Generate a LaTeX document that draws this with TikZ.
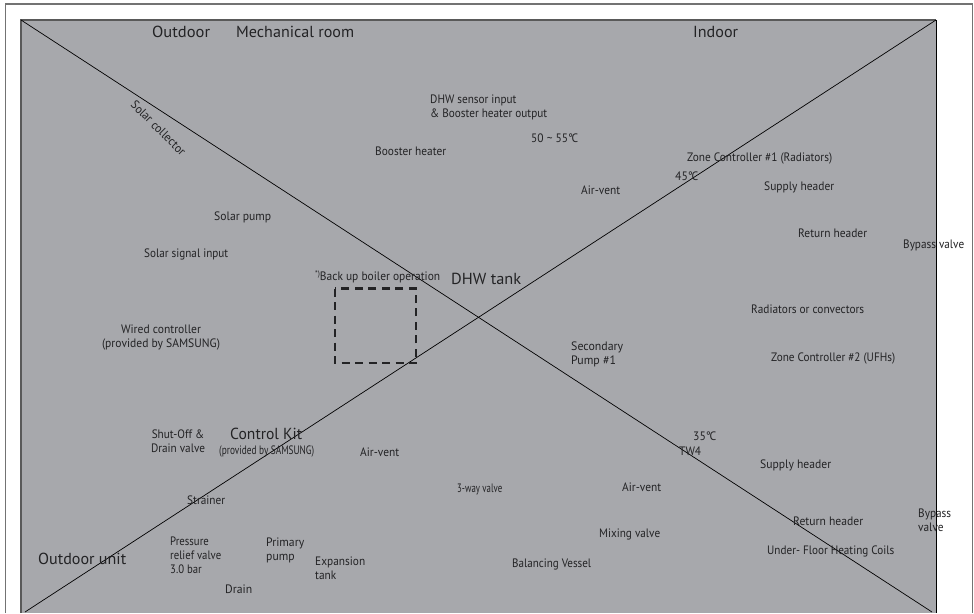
\documentclass[tikz,border=0pt]{standalone}
\usepackage{fontspec}
\setmainfont{PT Sans}
\definecolor{panel}{HTML}{A7A8AC}
\definecolor{ink}{HTML}{232325}
\newcommand{\fitw}[2]{\resizebox{#1pt}{\height}{#2}}
\newcommand{\fitl}[2]{\resizebox{#1pt}{\height}{\def\arraystretch{1}\setlength{\tabcolsep}{0pt}\begin{tabular}{l}#2\end{tabular}}}
\newcommand{\fitc}[2]{\resizebox{#1pt}{\height}{\def\arraystretch{1}\setlength{\tabcolsep}{0pt}\begin{tabular}{c}#2\end{tabular}}}
\newcommand{\dgc}{°\kern-0.12em C}
\begin{document}
\begin{tikzpicture}[x=1pt,y=-1pt,
  lbl/.style={text=ink,font=\fontsize{12.2}{13.8}\selectfont,inner sep=0pt,align=left,anchor=west,yshift=-0.6pt},
  big/.style={text=ink,font=\fontsize{16}{17}\selectfont,inner sep=0pt,anchor=west,yshift=-0.6pt},
  ctr/.style={lbl,anchor=center},
  diag/.style={draw=black,line width=0.7pt}]
\useasboundingbox (0,0) rectangle (974,613);
\fill[white] (0,0) rectangle (974,613);
\draw[draw=gray!90!black,line width=1.1pt] (5.5,613) -- (5.5,4) -- (972.5,4) -- (972.5,613);
\fill[panel] (21,20) rectangle (936,613);
\draw[draw=black!65,line width=1.2pt] (21,613) -- (21,20) -- (936,20);
\draw[draw=black,line width=0.9pt] (936,20) -- (936,613);
\coordinate (tl) at (21,20);
\coordinate (br) at (932,612);
\coordinate (tr) at (936,20);
\coordinate (bl) at (25,612);
\draw[diag] (tl) -- (br);
\draw[diag] (tr) -- (bl);
\draw[draw=ink,line width=2.6pt,dash pattern=on 8pt off 5.5pt] (335,288.5) rectangle (416,363);

\node[big] (outdoor) at (152,31) {\fitw{58}{Outdoor}};
\node[big] (mech) at (236,31) {\fitw{118}{Mechanical room}};
\node[big] (indoor) at (693,31) {\fitw{45}{Indoor}};
\node[lbl,rotate=-45,anchor=center] (solarc) at (158.5,127.5) {\fitw{72}{Solar collector}};
\node[lbl] (dhws) at (430,106.8) {\fitl{117}{DHW sensor input\\\& Booster heater output}};
\node[lbl] (boost) at (375,151) {\fitw{71}{Booster heater}};
\node[lbl] (t50) at (531,138) {\fitw{47}{50 \textasciitilde{} 55\dgc}};
\node[lbl] (zc1) at (687,158) {\fitw{145}{Zone Controller \#1 (Radiators)}};
\node[lbl] (t45) at (675,176) {\fitw{23}{45\dgc}};
\node[lbl] (av1) at (581,190) {\fitw{39}{Air-vent}};
\node[lbl] (sup1) at (764,186.5) {\fitw{70}{Supply header}};
\node[lbl] (ret1) at (798,233) {\fitw{69}{Return header}};
\node[lbl] (byp1) at (903,245) {\fitw{61}{Bypass valve}};
\node[lbl] (spump) at (214,217) {\fitw{57}{Solar pump}};
\node[lbl] (ssig) at (144,254) {\fitw{84}{Solar signal input}};
\node[lbl] (backup) at (315,276) {\fitw{125}{\raisebox{0.3em}{\fontsize{8}{8}\selectfont *)}Back up boiler operation}};
\node[big] (dhwt) at (451,278) {\fitw{70}{DHW tank}};
\node[lbl] (rad) at (751,309) {\fitw{113}{Radiators or convectors}};
\node[ctr] (wired) at (161,337) {\fitc{118}{Wired controller\\(provided by SAMSUNG)}};
\node[lbl] (sec) at (571,354) {\fitl{52}{Secondary\\Pump \#1}};
\node[lbl] (zc2) at (771,358) {\fitw{124}{Zone Controller \#2 (UFHs)}};
\node[ctr] (shut) at (178,442.5) {\fitc{54}{Shut-Off \&\\Drain valve}};
\node[big] (kit) at (230,433) {\fitw{72}{Control Kit}};
\node[lbl] (kit2) at (219,451) {\fitw{95}{(provided by SAMSUNG)}};
\node[lbl] (av2) at (360,452) {\fitw{39}{Air-vent}};
\node[lbl] (way) at (457,489) {\fitw{45}{3-way valve}};
\node[lbl] (t35) at (693,436) {\fitw{23}{35\dgc}};
\node[lbl] (tw4) at (679,451) {\fitw{22}{TW4}};
\node[lbl] (sup2) at (760,464.5) {\fitw{71}{Supply header}};
\node[lbl] (av3) at (622,487) {\fitw{39}{Air-vent}};
\node[lbl] (strain) at (187,500) {\fitw{38}{Strainer}};
\node[lbl] (press) at (170,556.2) {\fitl{51}{Pressure\\relief valve\\3.0 bar}};
\node[lbl] (prim) at (266,549.8) {\fitl{38}{Primary\\pump}};
\node[lbl] (exp) at (315,569.5) {\fitl{50}{Expansion\\tank}};
\node[lbl] (drain) at (225,589) {\fitw{27}{Drain}};
\node[big] (ounit) at (38,558) {\fitw{88}{Outdoor unit}};
\node[lbl] (mix) at (599,534) {\fitw{61}{Mixing valve}};
\node[lbl] (ret2) at (793,521) {\fitw{70}{Return header}};
\node[lbl] (byp2) at (918,521) {\fitl{33}{Bypass\\valve}};
\node[lbl] (ufh) at (767,551) {\fitw{127}{Under- Floor Heating Coils}};
\node[lbl] (bal) at (512,564) {\fitw{79}{Balancing Vessel}};
\end{tikzpicture}
\end{document}
